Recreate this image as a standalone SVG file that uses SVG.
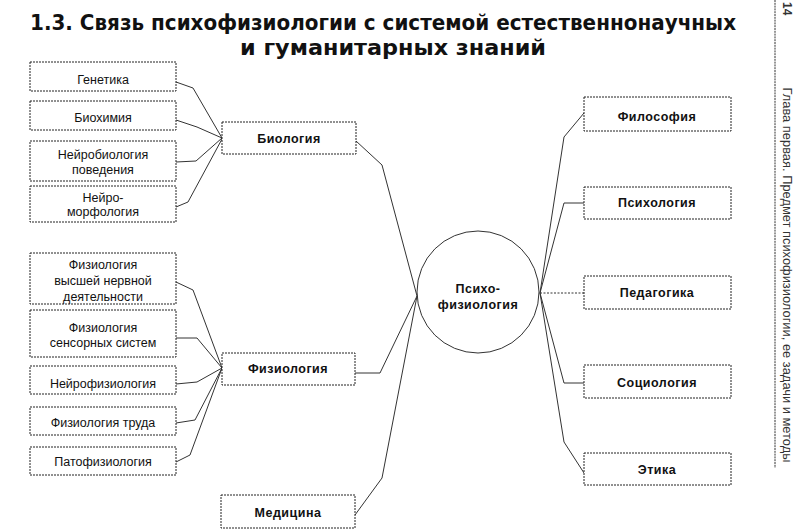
<svg xmlns="http://www.w3.org/2000/svg" width="802" height="530" viewBox="0 0 802 530">
<style>
.bg{fill:#fff}
.box{fill:#fff;stroke:#222;stroke-width:1;stroke-dasharray:2 1}
.ln{fill:none;stroke:#333;stroke-width:1}
.dl{fill:none;stroke:#333;stroke-width:1;stroke-dasharray:2 1.5}
.t{font-family:"Liberation Sans",Arial,sans-serif;font-size:12.5px;fill:#111;text-anchor:middle}
.b{font-family:"Liberation Sans",Arial,sans-serif;font-size:12.5px;font-weight:bold;fill:#111;text-anchor:middle;letter-spacing:0.5px}
.title{font-family:"Liberation Sans Narrow","DejaVu Sans Condensed","Liberation Sans",sans-serif;font-stretch:condensed;font-size:21px;font-weight:bold;fill:#111}
.side{font-family:"Liberation Sans",Arial,sans-serif;font-size:12px;fill:#333}
</style>
<rect class="bg" x="0" y="0" width="802" height="530"/>
<g id="title">
<text class="title" x="30" y="30" textLength="706" lengthAdjust="spacingAndGlyphs">1.3. Связь психофизиологии с системой естественнонаучных</text>
<text class="title" x="240" y="55" textLength="306" lengthAdjust="spacingAndGlyphs">и гуманитарных знаний</text>
</g>
<g id="page-margin">
<line x1="775" y1="0" x2="775" y2="468" stroke="#333" stroke-width="1" stroke-dasharray="2 0.8"/>
<text class="side" font-weight="bold" transform="translate(783,2) rotate(90)">14</text>
<text class="side" transform="translate(783,275) rotate(90)" text-anchor="middle" textLength="375" lengthAdjust="spacingAndGlyphs">Глава первая. Предмет психофизиологии, ее задачи и методы</text>
</g>
<g id="connectors">
<path class="ln" d="M176,82 L193,88 L222,138"/>
<path class="ln" d="M176,120 L197,127 L222,138"/>
<path class="ln" d="M176,162 L196,161 L222,138"/>
<path class="ln" d="M176,207 L188,202 L222,139"/>
<path class="ln" d="M176,282 L193,290 L222,368"/>
<path class="ln" d="M176,338 L197,338 L222,368"/>
<path class="ln" d="M176,384 L197,382 L222,368"/>
<path class="ln" d="M176,423 L195,420 L222,368"/>
<path class="ln" d="M176,462 L190,455 L222,368"/>
<path class="ln" d="M356,141 L382,165 L417,296"/>
<path class="ln" d="M355,373 L380,373 L417,296"/>
<path class="ln" d="M355,515 L382,478 L417,296"/>
<path class="ln" d="M584,113 L564,137 L540,293"/>
<path class="ln" d="M584,203 L564,203 L540,293"/>
<path class="dl" d="M540,293 L584,293"/>
<path class="ln" d="M584,383 L564,383 L540,293"/>
<path class="ln" d="M584,473 L564,442 L540,293"/>
</g>
<g id="n-genetika"><rect class="box" x="30" y="62" width="146" height="29"/><text class="t" x="103" y="84">Генетика</text></g>
<g id="n-biohimiya"><rect class="box" x="30" y="101" width="146" height="29"/><text class="t" x="103" y="122">Биохимия</text></g>
<g id="n-neirobiologiya"><rect class="box" x="30" y="141" width="146" height="40"/><text class="t" x="103" y="159">Нейробиология</text><text class="t" x="103" y="174">поведения</text></g>
<g id="n-neiromorfologiya"><rect class="box" x="30" y="186" width="146" height="36"/><text class="t" x="103" y="202">Нейро-</text><text class="t" x="103" y="216">морфология</text></g>
<g id="n-fvnd"><rect class="box" x="30" y="253" width="146" height="51"/><text class="t" x="103" y="269">Физиология</text><text class="t" x="103" y="285">высшей нервной</text><text class="t" x="103" y="301">деятельности</text></g>
<g id="n-sensor"><rect class="box" x="30" y="310" width="146" height="47"/><text class="t" x="103" y="332">Физиология</text><text class="t" x="103" y="347">сенсорных систем</text></g>
<g id="n-neirofiz"><rect class="box" x="30" y="366" width="146" height="28"/><text class="t" x="103" y="388">Нейрофизиология</text></g>
<g id="n-truda"><rect class="box" x="30" y="407" width="146" height="28"/><text class="t" x="103" y="427">Физиология труда</text></g>
<g id="n-pato"><rect class="box" x="30" y="447" width="146" height="28"/><text class="t" x="103" y="466">Патофизиология</text></g>
<g id="n-biologiya"><rect class="box" x="222" y="122" width="134" height="32"/><text class="b" x="289" y="143">Биология</text></g>
<g id="n-fiziologiya"><rect class="box" x="222" y="353" width="133" height="32"/><text class="b" x="288" y="373">Физиология</text></g>
<g id="n-medicina"><rect class="box" x="221" y="495" width="134" height="33"/><text class="b" x="288" y="517">Медицина</text></g>
<g id="n-psihofiziologiya"><circle cx="478" cy="292" r="61" fill="none" stroke="#333" stroke-width="1"/><text class="b" x="478" y="293">Психо-</text><text class="b" x="478" y="309">физиология</text></g>
<g id="n-filosofiya"><rect class="box" x="584" y="97" width="147" height="34"/><text class="b" x="657" y="121">Философия</text></g>
<g id="n-psihologiya"><rect class="box" x="584" y="187" width="147" height="32"/><text class="b" x="657" y="207">Психология</text></g>
<g id="n-pedagogika"><rect class="box" x="584" y="276" width="147" height="33"/><text class="b" x="657" y="297">Педагогика</text></g>
<g id="n-sociologiya"><rect class="box" x="584" y="365" width="147" height="33"/><text class="b" x="657" y="387">Социология</text></g>
<g id="n-etika"><rect class="box" x="584" y="453" width="147" height="32"/><text class="b" x="657" y="474">Этика</text></g>
</svg>
